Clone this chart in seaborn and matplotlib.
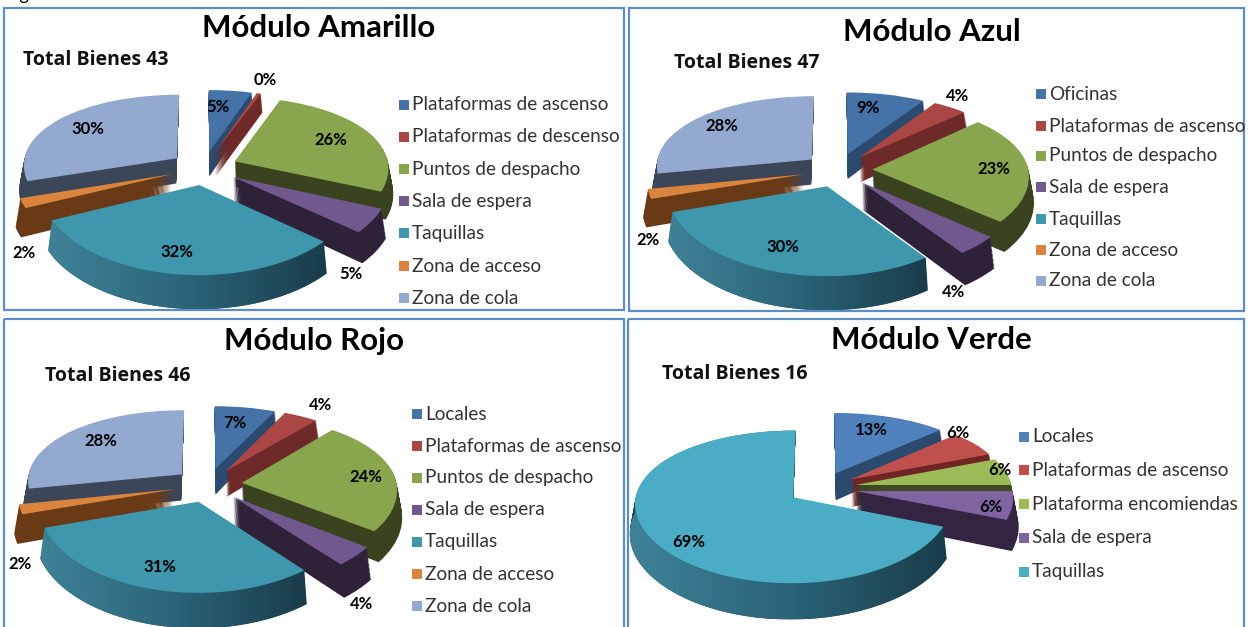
import numpy as np
import seaborn as sns
import matplotlib
matplotlib.use('Agg')
import matplotlib.pyplot as plt
from matplotlib.path import Path
from matplotlib.patches import PathPatch, Rectangle
from matplotlib.transforms import Transform

W, H = 1249, 627

amarillo_names = ["Plataformas de ascenso", "Plataformas de descenso", "Puntos de despacho",
                  "Sala de espera", "Taquillas", "Zona de acceso", "Zona de cola"]
amarillo_vals = [5, 0.49, 26, 5, 32, 2, 30]
azul_names = ["Oficinas", "Plataformas de ascenso", "Puntos de despacho",
              "Sala de espera", "Taquillas", "Zona de acceso", "Zona de cola"]
azul_vals = [9, 4, 23, 4, 30, 2, 28]
rojo_names = ["Locales", "Plataformas de ascenso", "Puntos de despacho",
              "Sala de espera", "Taquillas", "Zona de acceso", "Zona de cola"]
rojo_vals = [7, 4, 24, 4, 31, 2, 28]
verde_names = ["Locales", "Plataformas de ascenso", "Plataforma encomiendas",
               "Sala de espera", "Taquillas"]
verde_vals = [13, 6, 6, 6, 69]

top_cols = ["#4572a7", "#aa4643", "#89a54e", "#71588f", "#3f97ae", "#db843d", "#93a9cf"]
side_cols = ["#2b4a70", "#6e2a28", "#3a431f", "#2e2238", "#1f4a57", "#6a3a17", "#3b4658"]
verde_top = ["#4f81bd", "#c0504d", "#9bbb59", "#8064a2", "#4bacc6"]
verde_side = ["#2c4a6e", "#6e2523", "#3f4a20", "#332542", "#1f4a57"]

panels = [
    dict(title="Módulo Amarillo", total="Total Bienes 43", names=amarillo_names, vals=amarillo_vals,
         frame=(4, 8, 624, 310), title_xy=(319, 28), total_xy=(23, 60),
         centre=(204, 168), rx=154, ry=76, depth=25, top=top_cols, side=side_cols,
         leg_x=404, leg_y=[105, 137, 169, 201, 233, 266, 298],
         lab_xy=[(218, 107), (265, 80), (331, 140), (351, 274), (177, 252), (24, 253), (88, 129)]),
    dict(title="Módulo Azul", total="Total Bienes 47", names=azul_names, vals=azul_vals,
         frame=(629, 8, 1244, 311), title_xy=(932, 32), total_xy=(674, 63),
         centre=(838, 170), rx=156, ry=76, depth=25, top=top_cols, side=side_cols,
         leg_x=1041, leg_y=[94, 126, 156, 187, 219, 250, 281],
         lab_xy=[(868, 108), (958, 96), (994, 169), (954, 292), (783, 247), (648, 240), (722, 126)]),
    dict(title="Módulo Rojo", total="Total Bienes 46", names=rojo_names, vals=rojo_vals,
         frame=(4, 319, 624, 640), title_xy=(314, 341), total_xy=(45, 376),
         centre=(208, 485), rx=155, ry=77, depth=26, top=top_cols, side=side_cols,
         leg_x=417, leg_y=[414, 446, 478, 510, 542, 574, 606],
         lab_xy=[(235, 423), (321, 405), (366, 477), (362, 604), (160, 567), (20, 564), (101, 441)]),
    dict(title="Módulo Verde", total="Total Bienes 16", names=verde_names, vals=verde_vals,
         frame=(628, 319, 1244, 640), title_xy=(931, 340), total_xy=(662, 374),
         centre=(822, 488), rx=156, ry=74, depth=27, top=verde_top, side=verde_side,
         leg_x=1024, leg_y=[437, 470, 504, 538, 572],
         lab_xy=[(871, 430), (958, 433), (1000, 470), (991, 507), (689, 542)]),
]

sns.set_theme(style="white")
plt.rcParams['font.family'] = ['Lato', 'DejaVu Sans']

EXPLODE = 0.22
LIM = 1.9
teal_cmap = sns.blend_palette(["#3f8298", "#2b6478", "#1a3c4a"], as_cmap=True)


class Tilt(Transform):
    # rough perspective: the back of the pie shrinks, the front grows
    input_dims = output_dims = 2
    is_separable = False
    has_inverse = False

    def transform_non_affine(self, xy):
        xy = np.asarray(xy, float)
        x, y = xy[:, 0], xy[:, 1]
        return np.c_[x * (1 - 0.08 * y), y - 0.13 * y ** 2]


tilt = Tilt()
fig = plt.figure(figsize=(W / 100, H / 100), dpi=100, facecolor="white")


def draw_pie(p):
    cx, cy, rx, ry = p["centre"][0], p["centre"][1], p["rx"], p["ry"]
    ax = fig.add_axes([(cx - LIM * rx) / W, 1 - (cy + LIM * ry) / H, 2 * LIM * rx / W, 2 * LIM * ry / H])
    ax.patch.set_alpha(0)
    explode = [EXPLODE] * len(p["vals"])
    dz = p["depth"] / ry
    warped = tilt + ax.transData

    # extrude by stacking the same pie downwards
    n = p["depth"]
    for k in range(n, 0, -1):
        wedges, _ = ax.pie(p["vals"], colors=p["side"], explode=explode, startangle=90,
                           counterclock=False, center=(0, -dz * k / n),
                           wedgeprops=dict(linewidth=0))
        for w in wedges:
            mid = np.deg2rad((w.theta1 + w.theta2) / 2)
            w.set_zorder(2 - np.sin(mid) + (n - k) * 0.0001)
            w.set_transform(warped)

    wedges, _ = ax.pie(p["vals"], colors=p["top"], explode=explode, startangle=90,
                       counterclock=False, center=(0, 0), wedgeprops=dict(linewidth=0))
    for w in wedges:
        w.set_zorder(10)
        w.set_transform(warped)

    # shaded rim of the Taquillas slice
    w = wedges[p["names"].index("Taquillas")]
    t = np.deg2rad(np.linspace(w.theta1, w.theta2, 120))
    ux = w.center[0] + w.r * np.cos(t)
    uy = w.center[1] + w.r * np.sin(t)
    verts = np.vstack([np.c_[ux, uy], np.c_[ux[::-1], uy[::-1] - dz], [[ux[0], uy[0]]]])
    rim = PathPatch(Path(verts), fc="none", ec="none", transform=warped)
    ax.add_patch(rim)
    box = tilt.transform_non_affine(verts)
    img = ax.imshow(np.linspace(0, 1, 256)[None, :], cmap=teal_cmap, aspect="auto",
                    extent=(box[:, 0].min(), box[:, 0].max(), box[:, 1].min(), box[:, 1].max()), zorder=5)
    img.set_clip_path(rim)

    ax.set_aspect("auto")
    ax.set_xlim(-LIM, LIM)
    ax.set_ylim(-LIM, LIM)
    ax.axis("off")


for p in panels:
    draw_pie(p)

# overlay in image pixels for frames and text
ov = fig.add_axes([0, 0, 1, 1], zorder=20)
ov.set_xlim(0, W)
ov.set_ylim(H, 0)
ov.axis("off")
ov.patch.set_alpha(0)

ov.text(5, 0, "Figura", fontsize=13, va="baseline", color="black")

for p in panels:
    x0, y0, x1, y1 = p["frame"]
    ov.add_patch(Rectangle((x0, y0), x1 - x0, y1 - y0, fc="none", ec="#5b8ec6", lw=1.6))
    ov.text(*p["title_xy"], p["title"], fontsize=22.5, fontweight="bold", ha="center", va="center", color="black")
    ov.text(*p["total_xy"], p["total"], fontsize=14, fontweight="bold", ha="left", va="center",
            color="#111111", family="Open Sans")
    for name, col, y in zip(p["names"], p["top"], p["leg_y"]):
        ov.add_patch(Rectangle((p["leg_x"] - 5, y - 5), 10, 10, fc=col, ec="none"))
        ov.text(p["leg_x"] + 8, y, name, fontsize=13.7, va="center", ha="left", color="#333333")
    for v, xy in zip(p["vals"], p["lab_xy"]):
        ov.text(*xy, f"{v:.0f}%", fontsize=12, fontweight="bold", ha="center", va="center", color="black")

fig.savefig("out.png", dpi=100)
